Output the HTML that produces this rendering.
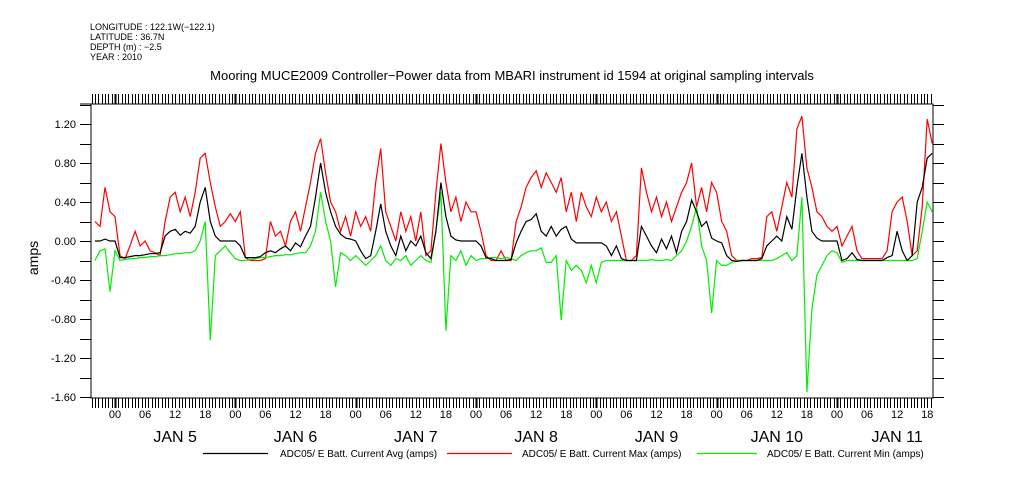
<!DOCTYPE html>
<html><head><meta charset="utf-8"><style>
html,body{margin:0;padding:0;background:#fff;}
svg{display:block;font-family:"Liberation Sans",sans-serif;}
</style></head><body>
<svg id="chart" width="1009" height="504" viewBox="0 0 1009 504">
<g font-size="9" fill="#000">
<text x="90" y="30">LONGITUDE : 122.1W(−122.1)</text>
<text x="90" y="40">LATITUDE : 36.7N</text>
<text x="90" y="50">DEPTH (m) : −2.5</text>
<text x="90" y="60">YEAR : 2010</text>
</g>
<text x="512" y="80" font-size="13" text-anchor="middle">Mooring MUCE2009 Controller−Power data from MBARI instrument id 1594 at original sampling intervals</text>
<text x="38" y="258" font-size="14" text-anchor="middle" transform="rotate(-90 38 258)">amps</text>
<g id="ticks"></g>
<g id="series"></g>
<rect x="91" y="104" width="842" height="294" fill="none" stroke="#000" stroke-width="1"/>
<g font-size="10">
<line x1="203" y1="453.5" x2="268" y2="453.5" stroke="#000" stroke-width="1.3"/>
<text x="280" y="457">ADC05/ E Batt. Current Avg (amps)</text>
<line x1="447" y1="453.5" x2="512" y2="453.5" stroke="#f00" stroke-width="1.3"/>
<text x="522" y="457">ADC05/ E Batt. Current Max (amps)</text>
<line x1="697" y1="453.5" x2="757" y2="453.5" stroke="#0e0" stroke-width="1.3"/>
<text x="767" y="457">ADC05/ E Batt. Current Min (amps)</text>
</g>
</svg>
<script>
// hours since Jan 5 00:00 of first sample, step 1 hour
const startHour = -4;
const avgValues = [
0,0,0.02,0,0,
-0.17,-0.17,-0.16,-0.15,-0.15,-0.14,-0.13,-0.13,-0.12,
0.05,0.1,0.12,0.06,0.1,0.08,0.15,
0.4,0.55,0.2,0.05,0,0,0,0,
-0.05,-0.17,-0.17,-0.17,-0.16,-0.12,-0.1,-0.12,-0.08,
-0.05,-0.1,-0.02,-0.06,
0.05,0.15,0.45,0.8,0.5,0.3,0.15,0.07,0.03,0.02,
0,-0.1,-0.18,-0.15,0.1,
0.38,0.1,-0.05,-0.15,0.05,-0.1,0.0,-0.05,0.05,-0.12,-0.18,0.1,
0.6,0.25,0.05,0.01,0,0,0,0,
-0.05,-0.17,-0.18,-0.2,-0.2,-0.2,-0.19,
-0.02,0.1,0.2,0.22,0.28,0.1,0.05,0.15,0.05,0.12,0.15,0.02,
-0.02,-0.02,-0.02,-0.02,-0.02,-0.02,-0.05,-0.15,-0.05,
-0.18,-0.2,-0.2,-0.2,
0.15,0.05,-0.05,-0.12,0.02,-0.08,0.05,-0.12,0.1,
0.2,0.42,0.3,0.15,0.2,0.03,0.0,
-0.02,-0.15,-0.2,-0.21,-0.2,-0.2,-0.2,-0.2,-0.18,
-0.05,0.0,0.05,0.0,0.25,0.12,0.55,0.9,0.45,0.1,0.03,0,0,0,0,-0.2,-0.18,-0.12,-0.19,-0.2,-0.2,-0.2,-0.2,-0.2,-0.17,-0.15,0.1,-0.1,-0.2,-0.15,0.4,0.55,0.85,
0.9];
const maxValues = [
0.2,0.15,0.55,0.3,0.25,
-0.15,-0.18,-0.05,0.1,-0.05,0.0,-0.1,-0.12,-0.15,
0.2,0.45,0.5,0.3,0.45,0.25,0.5,
0.85,0.9,0.6,0.35,0.15,0.2,0.28,0.2,
0.3,-0.17,-0.2,-0.2,-0.2,-0.18,0.2,0.05,0.1,
-0.05,0.2,0.3,0.1,
0.35,0.6,0.9,1.05,0.7,0.4,0.3,0.1,0.25,0.05,
0.3,0.15,0.25,0.1,0.6,
0.95,0.3,0.15,0.0,0.3,0.1,0.25,0.0,0.3,-0.15,-0.1,0.5,
1.0,0.6,0.3,0.45,0.2,0.4,0.3,0.3,
0.1,-0.15,-0.2,-0.2,-0.1,-0.2,-0.2,
0.2,0.35,0.55,0.65,0.72,0.55,0.7,0.6,0.5,0.65,0.3,0.5,
0.2,0.5,0.35,0.25,0.45,0.3,0.4,0.2,0.3,
0.05,-0.2,-0.2,-0.15,
0.75,0.5,0.3,0.45,0.25,0.4,0.2,0.35,0.5,
0.6,0.8,0.35,0.55,0.3,0.6,0.5,
0.2,0.1,-0.15,-0.2,-0.2,-0.2,-0.18,-0.18,-0.17,
0.25,0.3,0.1,0.35,0.6,0.45,1.15,1.28,0.75,0.55,0.3,0.25,0.15,0.1,0.15,-0.05,0.05,0.15,-0.1,-0.18,-0.18,-0.18,-0.18,-0.18,-0.1,0.3,0.4,0.45,0.2,-0.15,-0.1,0.35,1.25,
1.0];
const minValues = [
-0.2,-0.1,-0.08,-0.52,-0.1,
-0.2,-0.19,-0.18,-0.18,-0.17,-0.17,-0.16,-0.16,-0.15,
-0.15,-0.14,-0.13,-0.13,-0.12,-0.12,-0.1,
0.0,0.2,-1.02,-0.15,-0.1,-0.05,-0.12,-0.18,
-0.2,-0.2,-0.19,-0.18,-0.17,-0.17,-0.16,-0.15,-0.15,
-0.14,-0.14,-0.13,-0.12,
-0.12,-0.05,0.1,0.5,0.2,0.0,-0.47,-0.12,-0.15,-0.2,
-0.15,-0.2,-0.25,-0.2,-0.15,
-0.05,-0.2,-0.25,-0.18,-0.2,-0.15,-0.25,-0.2,-0.15,-0.2,-0.22,0.1,
0.5,-0.92,-0.15,-0.2,-0.1,-0.25,-0.15,-0.2,
-0.18,-0.18,-0.17,-0.17,-0.18,-0.17,-0.18,
-0.2,-0.15,-0.12,-0.1,-0.1,-0.07,-0.22,-0.22,-0.15,-0.81,-0.2,-0.3,
-0.25,-0.3,-0.43,-0.25,-0.43,-0.22,-0.2,-0.2,-0.2,
-0.2,-0.2,-0.2,-0.2,
-0.2,-0.2,-0.19,-0.2,-0.2,-0.19,-0.2,-0.15,-0.1,
0.0,0.15,0.35,-0.05,-0.2,-0.74,-0.2,
-0.25,-0.25,-0.22,-0.2,-0.2,-0.2,-0.2,-0.2,-0.2,
-0.2,-0.2,-0.18,-0.15,-0.12,-0.2,-0.15,0.45,-1.55,-0.7,-0.35,-0.25,-0.15,-0.1,-0.12,-0.22,-0.2,-0.2,-0.2,-0.2,-0.2,-0.2,-0.2,-0.2,-0.2,-0.2,-0.2,-0.2,-0.2,-0.2,-0.18,0.1,0.4,
0.3];
const yTickLabels = ["1.20","0.80","0.40","0.00","-0.40","-0.80","-1.20","-1.60"];
const dayLabels = ["JAN  5","JAN  6","JAN  7","JAN  8","JAN  9","JAN 10","JAN 11"];
const hourLabels = ["00","06","12","18"];

const NS = "http://www.w3.org/2000/svg";
const X0 = 115, DAY = 120.33;
function xScale(h){ return X0 + h * DAY / 24; }
function yScale(v){ return 241 - v * 97.5; }
function mk(tag, attrs, parent){ const e=document.createElementNS(NS,tag); for(const k in attrs) e.setAttribute(k,attrs[k]); parent.appendChild(e); return e; }

const tg = document.getElementById('ticks');
// ticks every 40 minutes on top and bottom axes
for(let k=-7; k<=244; k++){
  const h = k*2/3;
  const xr = xScale(h);
  if(xr<91 || xr>933) continue;
  const x = Math.round(xr)+0.5;
  const major = (k%36)===0;
  const t1 = mk('line',{x1:x,y1:94,x2:x,y2:104,stroke:'#000','stroke-width':major?2:1},tg);
  
  
  const t2 = mk('line',{x1:x,y1:398,x2:x,y2:408,stroke:'#000','stroke-width':major?2:1},tg);
  
  
}
mk('line',{x1:80,y1:104,x2:91,y2:104,stroke:'#000'},tg);
// hour labels
for(let d=0; d<7; d++){
  for(let i=0;i<4;i++){
    const h = d*24 + i*6;
    if(h>162) continue;
    const t = mk('text',{x:xScale(h),y:418,'font-size':11,'text-anchor':'middle'},tg);
    t.textContent = hourLabels[i];
    
    
  }
  const dl = mk('text',{x:xScale(d*24+12),y:442,'font-size':16,'text-anchor':'middle','xml:space':'preserve'},tg);
  dl.textContent = dayLabels[d];
  
  
}
// y ticks every 0.2
for(let k=-8;k<=7;k++){
  const v = k*0.2;
  const y = Math.round(yScale(v))+0.5;
  if(y<104||y>398) continue;
  const a = mk('line',{x1:80,y1:y,x2:91,y2:y,stroke:'#000'},tg);
  
  
  const b = mk('line',{x1:933,y1:y,x2:944,y2:y,stroke:'#000'},tg);
  
  
}
yTickLabels.forEach(function(lbl){
  const v = parseFloat(lbl);
  const t = mk('text',{x:76,y:yScale(v)+4,'font-size':11,'text-anchor':'end'},tg);
  t.textContent = lbl;
  
  
});
// series
const sg = document.getElementById('series');
function drawSeries(vals, color, name){
  const pts = vals.map(function(v,i){ return xScale(startHour+i).toFixed(1)+','+yScale(v).toFixed(1); }).join(' ');
  const p = mk('polyline',{points:pts,fill:'none',stroke:color,'stroke-width':1.2},sg);
  
  
}
drawSeries(maxValues,'#f00','series-max-line');
drawSeries(minValues,'#0e0','series-min-line');
drawSeries(avgValues,'#000','series-avg-line');
</script>
</body></html>
